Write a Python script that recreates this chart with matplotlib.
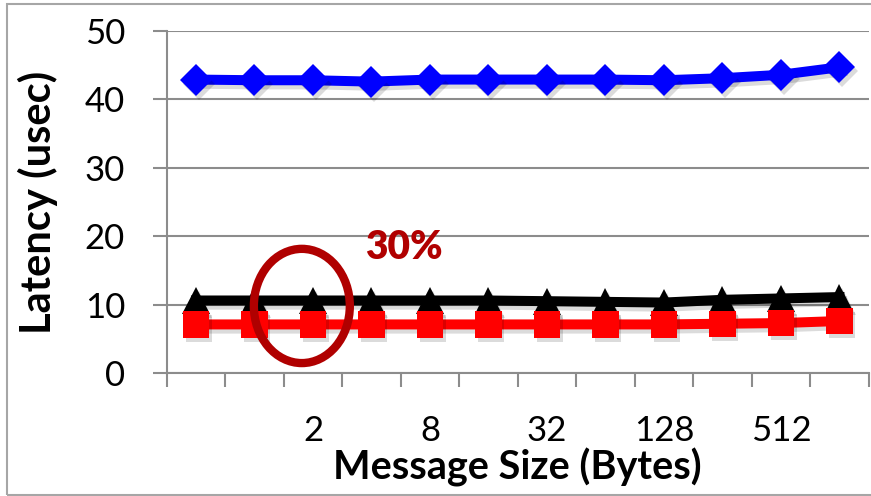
import matplotlib
matplotlib.use("Agg")
import matplotlib.pyplot as plt
import matplotlib.patheffects as pe
from matplotlib.patches import Ellipse, Rectangle
import numpy as np

# Message sizes (bytes) on the category axis and the labels that are printed
msg_sizes = [0, 1, 2, 4, 8, 16, 32, 64, 128, 256, 512, 1024]
shown_labels = ["2", "8", "32", "128", "512"]

# Latency (usec) per message size
latency_blue = [42.9, 42.8, 42.8, 42.6, 42.9, 42.9, 42.9, 42.9, 42.8, 43.1, 43.6, 44.7]
latency_black = [10.6, 10.6, 10.6, 10.6, 10.6, 10.6, 10.5, 10.4, 10.3, 10.7, 10.9, 11.1]
latency_red = [7.1, 7.1, 7.1, 7.1, 7.1, 7.1, 7.1, 7.1, 7.1, 7.2, 7.3, 7.6]

y_ticks = [0, 10, 20, 30, 40, 50]
callout_text = "30%"

plt.rcParams["font.family"] = ["Lato", "DejaVu Sans"]

fig = plt.figure(figsize=(8.71, 4.96), dpi=100)
ax = fig.add_axes([0.1914, 0.248, 0.806, 0.6895])

x = np.arange(len(msg_sizes))
grid_gray = "#8c8c8c"

line_shadow = [pe.SimpleLineShadow(offset=(2, -3), shadow_color="#000000", alpha=0.14), pe.Normal()]
mark_shadow = [pe.SimplePatchShadow(offset=(2, -3), shadow_rgbFace="#000000", alpha=0.14), pe.Normal()]

series = [
    (latency_blue, "#0000ff", "D", 16.3),
    (latency_black, "#000000", "^", 19.5),
    (latency_red, "#ff0000", "s", 19.0),
]
for i, (vals, col, mk, ms) in enumerate(series):
    ax.plot(x, vals, color=col, lw=7.2, solid_joinstyle="miter",
            path_effects=line_shadow, zorder=3 + i)
    ax.plot(x, vals, linestyle="none", marker=mk, ms=ms, color=col,
            mec=col, mew=0, path_effects=mark_shadow, zorder=3 + i)

ax.set_xlim(-0.5, len(msg_sizes) - 0.5)
ax.set_ylim(0, 50)

# Category labels centered under points, tick marks on category boundaries
ax.set_xticks(x)
ax.set_xticklabels([str(s) if str(s) in shown_labels else "" for s in msg_sizes])
ax.set_xticks(np.arange(-0.5, len(msg_sizes)), minor=True)
ax.tick_params(axis="x", which="major", length=0, pad=30, labelsize=25)
ax.tick_params(axis="x", which="minor", length=10, width=1.5, color=grid_gray, direction="out")

ax.set_yticks(y_ticks)
ax.tick_params(axis="y", which="major", length=10, width=1.5, color=grid_gray,
               direction="out", pad=20, labelsize=25)

ax.yaxis.grid(True, color=grid_gray, lw=1.5)
ax.set_axisbelow(True)
for side in ["top", "right"]:
    ax.spines[side].set_visible(False)
for side in ["left", "bottom"]:
    ax.spines[side].set_color(grid_gray)
    ax.spines[side].set_linewidth(1.5)

ax.set_xlabel("Message Size (Bytes)", fontsize=28.5, fontweight="bold", labelpad=1)
ax.set_ylabel("Latency (usec)", fontsize=30, fontweight="bold", labelpad=19)

# Callout around the low-latency series
dark_red = "#b00000"
ax.add_patch(Ellipse((1.81, 9.8), 1.64, 16.7, fill=False, ec=dark_red, lw=6, zorder=10, clip_on=False))
ax.text(3.56, 18.4, callout_text, color=dark_red, fontsize=28, fontweight="heavy",
        ha="center", va="center", zorder=10)

# Outer chart border
fig.patches.append(Rectangle((7 / 871, 1 / 496), 1.0, 491 / 496, transform=fig.transFigure,
                             fill=False, ec="#a6a6a6", lw=1.5))

fig.savefig("out.png", dpi=100)
